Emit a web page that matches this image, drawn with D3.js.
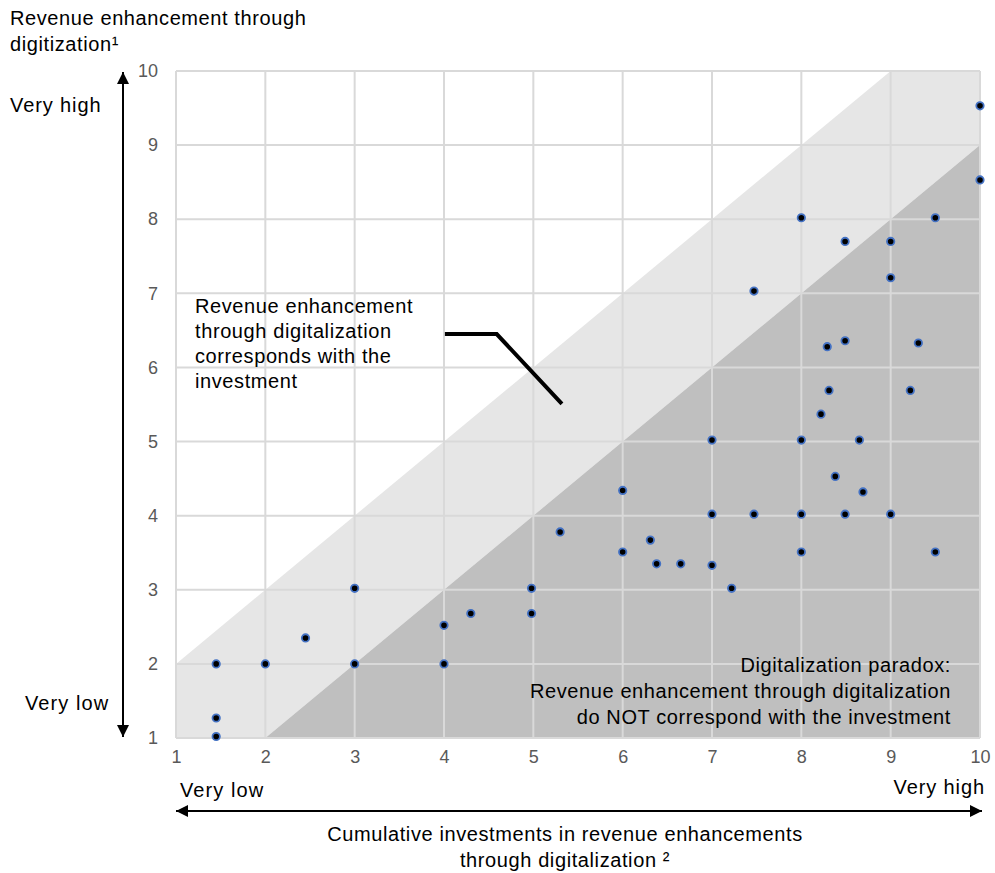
<!DOCTYPE html>
<html><head><meta charset="utf-8">
<script src="https://cdn.jsdelivr.net/npm/d3@7"></script>
<style>body{margin:0;background:#fff;} text{font-family:"Liberation Sans",Arial,sans-serif;}</style>
</head><body>
<svg id="c" width="995" height="873"></svg>
<script>
const xTicks = [1,2,3,4,5,6,7,8,9,10];
const yTicks = [1,2,3,4,5,6,7,8,9,10];
const xValues = [1.45,1.45,1.45,2,2.45,3,3,4,4,4.3,4.98,4.98,5.3,6,6,6.31,6.38,6.65,7,7.22,7,7,7.47,7.47,8,8,8,8,8.22,8.29,8.31,8.38,8.49,8.49,8.49,8.65,8.69,9,9,9,9.22,9.31,9.5,9.5,10,10];
const yValues = [1.02,1.27,2,2,2.35,2,3.02,2,2.52,2.68,2.68,3.02,3.78,3.51,4.34,3.67,3.35,3.35,3.33,3.02,4.02,5.02,4.02,7.03,3.51,4.02,5.02,8.02,5.37,6.28,5.69,4.53,4.02,6.36,7.7,5.02,4.32,4.02,7.21,7.7,5.69,6.33,3.51,8.02,8.53,9.53];
const lightBand = [[1,1],[1,2],[9,10],[10,10],[10,9],[2,1]];
const darkBand = [[2,1],[10,9],[10,1]];
const titleLines = ["Revenue enhancement through","digitization¹"];
const noteLines = ["Revenue enhancement","through digitalization","corresponds with the","investment"];
const paradoxLines = ["Digitalization paradox:","Revenue enhancement through digitalization","do NOT correspond with the investment"];
const xTitleLines = ["Cumulative investments in revenue enhancements","through digitalization ²"];
const pointer = [[4.01,6.45],[4.59,6.45],[5.32,5.51]];

const svg = d3.select("#c");
const x = d3.scaleLinear().domain([1,10]).range([176,980]);
const y = d3.scaleLinear().domain([1,10]).range([738,71]);

const defs = svg.append("defs");
defs.append("marker").attr("id","ah").attr("viewBox","0 0 10 10").attr("refX",10).attr("refY",5)
  .attr("orient","auto-start-reverse").attr("markerUnits","userSpaceOnUse")
  .attr("markerWidth",15).attr("markerHeight",12)
  .append("path").attr("d","M0,0 L10,5 L0,10 Z").attr("fill","#000");

const line = d3.line().x(d=>x(d[0])).y(d=>y(d[1]));
svg.append("path").attr("d", line(lightBand)+"Z").attr("fill","#e6e6e6");
svg.append("path").attr("d", line(darkBand)+"Z").attr("fill","#bfbfbf");

// grid
const grid = svg.append("g");
grid.selectAll(".gx").data(xTicks).join("line").attr("x1",d=>x(d)).attr("x2",d=>x(d)).attr("y1",y(1)).attr("y2",y(10)).attr("stroke","#d9d9d9").attr("stroke-width",2);
grid.selectAll(".gy").data(yTicks).join("line").attr("y1",d=>y(d)).attr("y2",d=>y(d)).attr("x1",x(1)).attr("x2",x(10)).attr("stroke","#d9d9d9").attr("stroke-width",2);

// axes labels
const xAxis = d3.axisBottom(x).tickValues(xTicks).tickSize(0).tickPadding(12);
const gx = svg.append("g").attr("transform",`translate(0,${y(1)})`).call(xAxis);
gx.select(".domain").remove();
gx.selectAll("text").attr("font-size",18).attr("fill","#595959").attr("font-family","Liberation Sans, Arial, sans-serif");
const yAxis = d3.axisLeft(y).tickValues(yTicks).tickSize(0).tickPadding(18);
const gy = svg.append("g").attr("transform",`translate(${x(1)},0)`).call(yAxis);
gy.select(".domain").remove();
gy.selectAll("text").attr("font-size",18).attr("fill","#595959").attr("font-family","Liberation Sans, Arial, sans-serif");

// points
svg.append("g").selectAll("circle").data(xValues.map((v,i)=>[v,yValues[i]])).join("circle")
  .attr("cx",d=>x(d[0])).attr("cy",d=>y(d[1])).attr("r",3.7)
  .attr("fill","#000").attr("stroke","#4472c4").attr("stroke-width",1.8);

// pointer line
svg.append("path").attr("d", line(pointer)).attr("fill","none").attr("stroke","#000").attr("stroke-width",4);

// text helper
function lines(arr, x0, y0, lh, anchor, size){
  const t = svg.append("text").attr("x",x0).attr("y",y0).attr("font-size",size).attr("fill","#000")
    .attr("text-anchor",anchor).attr("letter-spacing","0.6px");
  arr.forEach((s,i)=>t.append("tspan").attr("x",x0).attr("dy",i===0?0:lh).text(s));
}
lines(titleLines, 10, 25, 26, "start", 20);
lines(noteLines, 195, 313, 25, "start", 20);
lines(paradoxLines, 951, 672, 26, "end", 20);
lines(xTitleLines, 565, 841, 26, "middle", 20);

svg.append("text").attr("x",10).attr("y",112).attr("font-size",20).attr("letter-spacing","0.9px").text("Very high");
svg.append("text").attr("x",25).attr("y",710).attr("font-size",20).attr("letter-spacing","1.1px").text("Very low");
svg.append("text").attr("x",180).attr("y",797).attr("font-size",20).attr("letter-spacing","1.1px").text("Very low");
svg.append("text").attr("x",985).attr("y",794).attr("font-size",20).attr("letter-spacing","0.9px").attr("text-anchor","end").text("Very high");

// arrows
svg.append("line").attr("x1",123).attr("x2",123).attr("y1",737).attr("y2",72).attr("stroke","#000").attr("stroke-width",2)
  .attr("marker-start","url(#ah)").attr("marker-end","url(#ah)");
svg.append("line").attr("x1",176).attr("x2",982).attr("y1",811).attr("y2",811).attr("stroke","#000").attr("stroke-width",2)
  .attr("marker-start","url(#ah)").attr("marker-end","url(#ah)");
</script>
</body></html>
